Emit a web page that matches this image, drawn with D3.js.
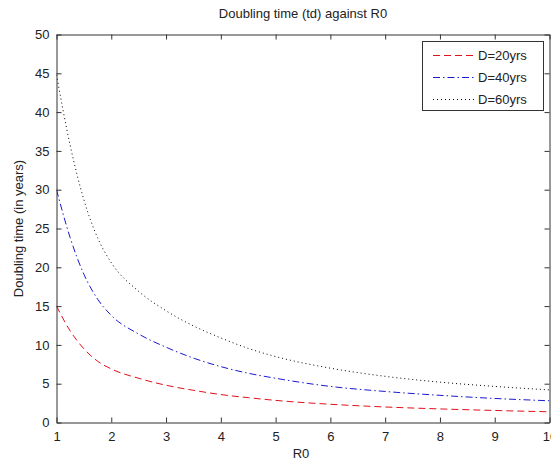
<!DOCTYPE html>
<html>
<head>
<meta charset="utf-8">
<script src="https://cdn.jsdelivr.net/npm/d3@7"></script>
<style>
  html, body { margin: 0; padding: 0; background: #fff; }
  svg { display: block; font-family: "Liberation Sans", Arial, sans-serif; }
</style>
</head>
<body>
<svg id="chart" width="551" height="460"></svg>
<script>
// ---- data ----
const r0Values = [1, 1.25, 1.5, 1.75, 2, 2.5, 3, 3.5, 4, 4.5, 5, 6, 7, 8, 9, 10];
const td20 = [15, 11.8, 9.5, 7.9, 6.9, 5.7, 4.8, 4.15, 3.6, 3.2, 2.85, 2.35, 2.0, 1.75, 1.55, 1.38];
const td40 = [30, 23.8, 19.1, 15.9, 13.8, 11.4, 9.7, 8.3, 7.2, 6.35, 5.7, 4.65, 4.0, 3.5, 3.1, 2.8];
const td60 = [44.8, 35.7, 28.7, 23.8, 20.6, 16.9, 14.4, 12.45, 10.9, 9.55, 8.5, 7.0, 5.95, 5.2, 4.65, 4.2];
const seriesNames = ["D=20yrs", "D=40yrs", "D=60yrs"];
const xTicks = [1, 2, 3, 4, 5, 6, 7, 8, 9, 10];
const yTicks = [0, 5, 10, 15, 20, 25, 30, 35, 40, 45, 50];
const titleText = "Doubling time (td) against R0";
const xLabelText = "R0";
const yLabelText = "Doubling time (in years)";

(function () {
const series = [
  { name: seriesNames[0], values: td20, color: "#e0101c", dash: "7,4" },
  { name: seriesNames[1], values: td40, color: "#1a1ad0", dash: "7,3,1.5,3" },
  { name: seriesNames[2], values: td60, color: "#000000", dash: "1,3" }
];

const svg = d3.select("#chart");
const pLeft = 56.5, pRight = 549.5, pTop = 34.5, pBottom = 422.5;

const x = d3.scaleLinear().domain([1, 10]).range([pLeft, pRight]);
const y = d3.scaleLinear().domain([0, 50]).range([pBottom, pTop]);

const axisColor = "#333";
const fontSize = 13;

svg.append("defs").append("clipPath").attr("id", "clip")
  .append("rect").attr("x", pLeft).attr("y", pTop).attr("width", pRight - pLeft).attr("height", pBottom - pTop);

const line = d3.line()
  .x((d, i) => x(r0Values[i]))
  .y(d => y(d))
  .curve(d3.curveMonotoneX);

svg.append("g").attr("clip-path", "url(#clip)")
  .selectAll("path").data(series).join("path")
  .attr("d", d => line(d.values))
  .attr("fill", "none")
  .attr("stroke", d => d.color)
  .attr("stroke-width", 1)
  .attr("stroke-dasharray", d => d.dash);

const tickLen = 5;
const xAxisBottom = d3.axisBottom(x).tickValues(xTicks).tickSizeInner(-tickLen).tickSizeOuter(0).tickPadding(9).tickFormat(d3.format("d"));
const xAxisTop = d3.axisTop(x).tickValues(xTicks).tickSizeInner(-tickLen).tickSizeOuter(0).tickFormat("");
const yAxisLeft = d3.axisLeft(y).tickValues(yTicks).tickSizeInner(-tickLen).tickSizeOuter(0).tickPadding(7).tickFormat(d3.format("d"));
const yAxisRight = d3.axisRight(y).tickValues(yTicks).tickSizeInner(-tickLen).tickSizeOuter(0).tickFormat("");

function styleAxis(g) {
  g.select(".domain").attr("stroke", axisColor);
  g.selectAll(".tick line").attr("stroke", axisColor);
  g.selectAll(".tick text").attr("fill", "#222").style("font-size", fontSize + "px")
    .style("font-family", "'Liberation Sans', Arial, sans-serif");
}

svg.append("g").attr("transform", `translate(0,${pBottom})`).call(xAxisBottom).call(styleAxis);
svg.append("g").attr("transform", `translate(0,${pTop})`).call(xAxisTop).call(styleAxis);
svg.append("g").attr("transform", `translate(${pLeft},0)`).call(yAxisLeft).call(styleAxis);
svg.append("g").attr("transform", `translate(${pRight},0)`).call(yAxisRight).call(styleAxis);

svg.append("text").attr("x", (pLeft + pRight) / 2).attr("y", 18)
  .attr("text-anchor", "middle").style("font-size", "13px").attr("fill", "#222").text(titleText);
svg.append("text").attr("x", (pLeft + pRight) / 2 - 2).attr("y", 458)
  .attr("text-anchor", "middle").style("font-size", fontSize + "px").attr("fill", "#222").text(xLabelText);
svg.append("text").attr("transform", `translate(23,${(pTop + pBottom) / 2}) rotate(-90)`)
  .attr("text-anchor", "middle").style("font-size", fontSize + "px").attr("fill", "#222").text(yLabelText);

const lg = svg.append("g");
const lgX = 422.5, lgY = 41.5, lgW = 121, lgH = 69;
lg.append("rect").attr("x", lgX).attr("y", lgY).attr("width", lgW).attr("height", lgH)
  .attr("fill", "#fff").attr("stroke", axisColor).attr("stroke-width", 1);
series.forEach((s, i) => {
  const cy = 55.5 + i * 22;
  lg.append("line").attr("x1", 433).attr("x2", 475).attr("y1", cy).attr("y2", cy)
    .attr("stroke", s.color).attr("stroke-width", 1).attr("stroke-dasharray", s.dash);
  lg.append("text").attr("x", 478).attr("y", cy + 4.5).style("font-size", fontSize + "px")
    .attr("fill", "#222").text(s.name);
});
})();
</script>
</body>
</html>
